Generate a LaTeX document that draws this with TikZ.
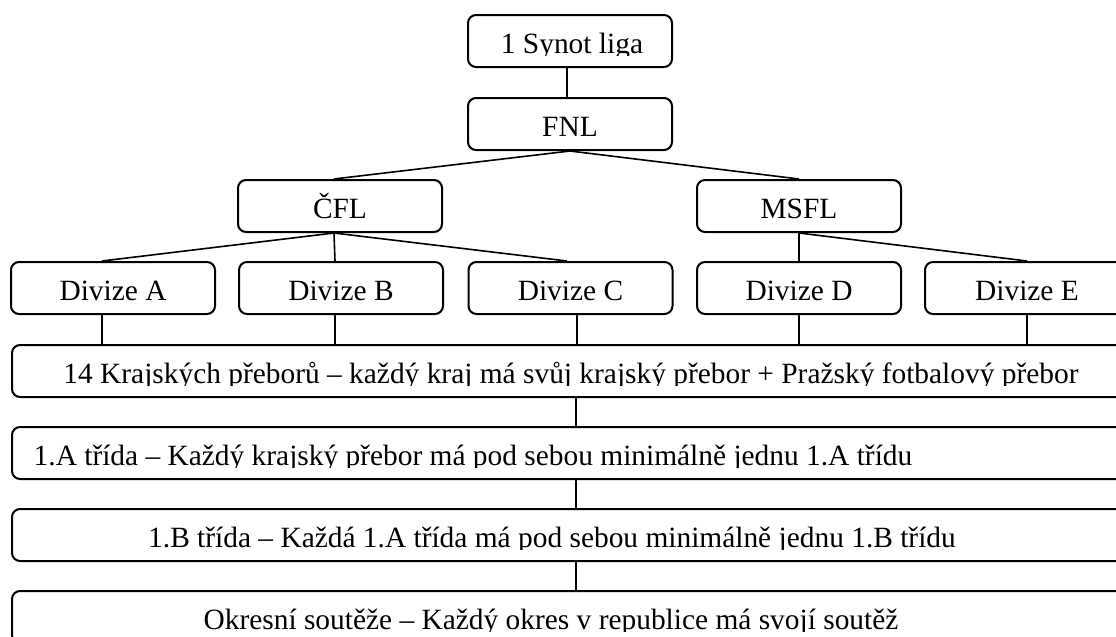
\documentclass[tikz,border=0pt]{standalone}
\usepackage{fontspec}
\setmainfont{Liberation Serif}
\usetikzlibrary{calc}
\newcommand\boxtext[3]{%
  \begin{scope}
    \clip (#1.north west) rectangle ([yshift=-20.6pt]#1.north east);
    \node[lbl, anchor=base] (#1t) at ([xshift=#2, yshift=-19.6pt]#1.north) {#3};
  \end{scope}}
\begin{document}
\begin{tikzpicture}[x=0.5pt,y=-0.5pt,
  bx/.style={draw, rounded corners=4pt, line width=1pt, inner sep=0pt,
             minimum height=26pt, minimum width=102pt},
  wide/.style={bx, minimum width=564pt},
  lbl/.style={inner sep=0pt, font=\fontsize{14.7}{17}\selectfont},
  con/.style={line width=0.8pt}]
\clip (0,0) rectangle (1116,637);
% boxes
\node[bx] (syn)  at (570,41)    {};
\node[bx] (fnl)  at (570,124)   {};
\node[bx] (cfl)  at (340,206)   {};
\node[bx] (msfl) at (799,206)   {};
\node[bx] (dA)   at (113,288)   {};
\node[bx] (dB)   at (341,288)   {};
\node[bx] (dC)   at (570.5,288) {};
\node[bx] (dD)   at (799,288)   {};
\node[bx] (dE)   at (1027,288)  {};
\node[wide] (kraj) at (576,371) {};
\node[wide] (tA)   at (576,453) {};
\node[wide] (tB)   at (576,535) {};
\node[wide] (okr)  at (576,617) {};
% texts
\boxtext{syn}{1pt}{1 Synot liga}
\boxtext{fnl}{0pt}{FNL}
\boxtext{cfl}{0pt}{ČFL}
\boxtext{msfl}{0pt}{MSFL}
\boxtext{dA}{0pt}{Divize A}
\boxtext{dB}{0pt}{Divize B}
\boxtext{dC}{0pt}{Divize C}
\boxtext{dD}{0pt}{Divize D}
\boxtext{dE}{0pt}{Divize E}
\boxtext{kraj}{-2.5pt}{14 Krajských přeborů – každý kraj má svůj krajský přebor + Pražský fotbalový přebor}
\boxtext{tA}{-51.5pt}{1.A třída – Každý krajský přebor má pod sebou minimálně jednu 1.A třídu}
\boxtext{tB}{-12pt}{1.B třída – Každá 1.A třída má pod sebou minimálně jednu 1.B třídu}
\boxtext{okr}{-12.5pt}{Okresní soutěže – Každý okres v republice má svojí soutěž}
% attachment points
\coordinate (synS) at ($(syn.south)+(-3,0)$);
\coordinate (cflN) at ($(cfl.north)+(-6,0)$);
\coordinate (cflS) at ($(cfl.south)+(-6,0)$);
\coordinate (dAN) at ($(dA.north)+(-11,0)$);
\coordinate (dBN) at ($(dB.north)+(-6,0)$);
\coordinate (dCN) at ($(dC.north)+(-3.5,0)$);
\coordinate (dAS) at ($(dA.south)+(-11,0)$);
\coordinate (dBS) at ($(dB.south)+(-6,0)$);
\coordinate (dCS) at ($(dC.south)+(6.5,0)$);
\coordinate (krajS) at ($(kraj.south)+(0,0)$);
\coordinate (tAS) at ($(tA.south)+(0,0)$);
\coordinate (tBS) at ($(tB.south)+(0,0)$);
% connectors
\draw[con] (synS) -- (synS |- fnl.north);
\draw[con] (fnl.south) -- (cflN);
\draw[con] (fnl.south) -- (msfl.north);
\draw[con] (cflS) -- (dAN);
\draw[con] (cflS) -- (dBN);
\draw[con] (cflS) -- (dCN);
\draw[con] (msfl.south) -- (dD.north);
\draw[con] (msfl.south) -- (dE.north);
\draw[con] (dAS) -- (dAS |- kraj.north);
\draw[con] (dBS) -- (dBS |- kraj.north);
\draw[con] (dCS) -- (dCS |- kraj.north);
\draw[con] (dD.south) -- (dD.south |- kraj.north);
\draw[con] (dE.south) -- (dE.south |- kraj.north);
\draw[con] (krajS) -- (krajS |- tA.north);
\draw[con] (tAS) -- (tAS |- tB.north);
\draw[con] (tBS) -- (tBS |- okr.north);
\end{tikzpicture}
\end{document}
